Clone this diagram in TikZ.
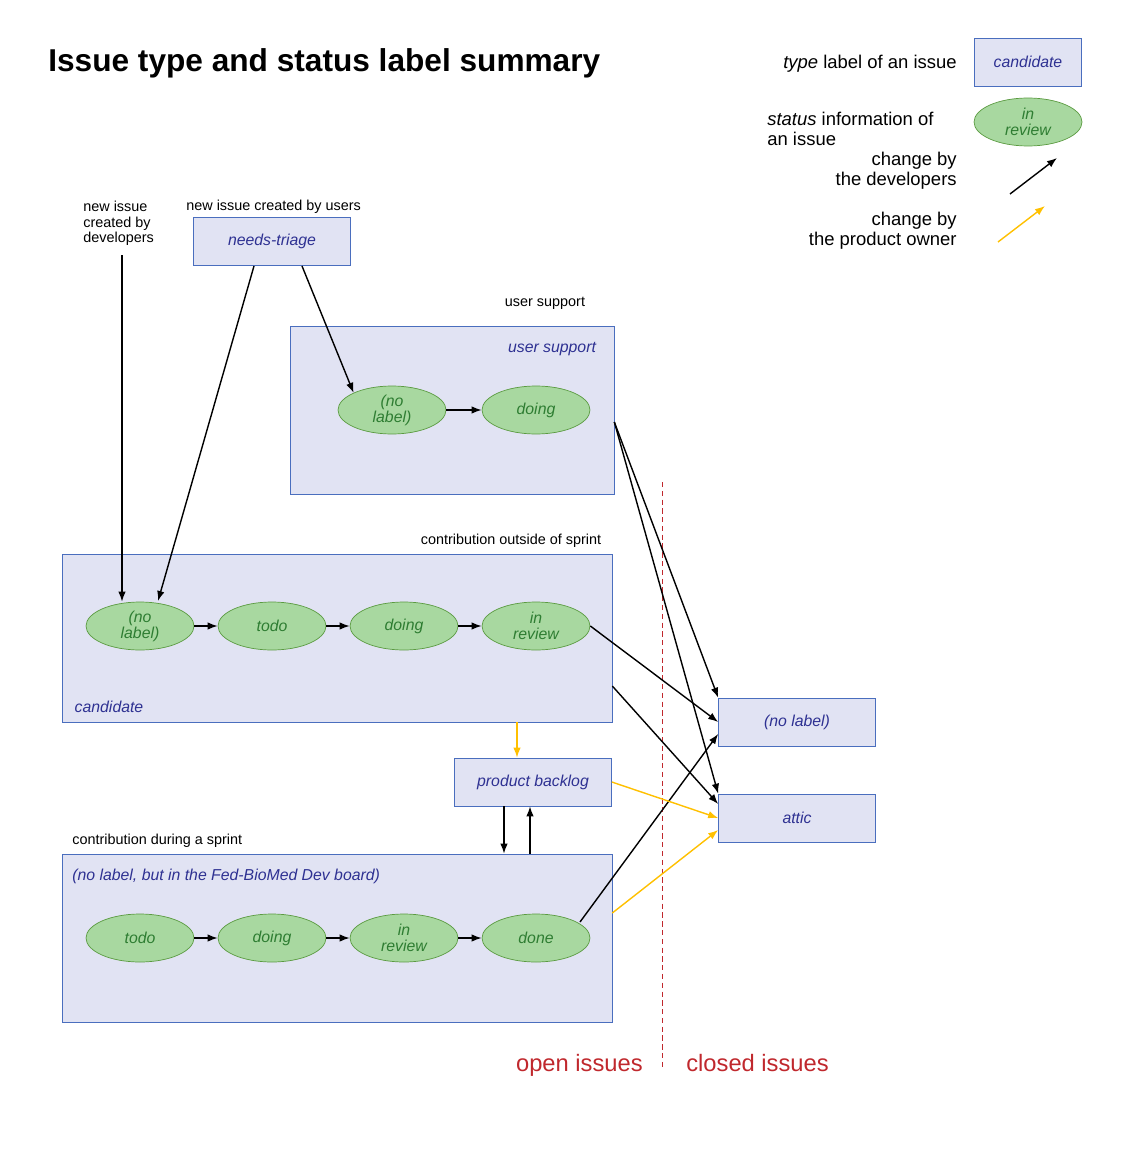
\documentclass[tikz,border=0pt]{standalone}
\usepackage{fontspec}
\setmainfont{Liberation Sans}
\usetikzlibrary{positioning,arrows.meta,shapes.geometric}
\definecolor{boxfill}{HTML}{E1E3F3}
\definecolor{boxdraw}{HTML}{4A6EBE}
\definecolor{boxtext}{HTML}{2E3192}
\definecolor{ellfill}{HTML}{A8D8A0}
\definecolor{elldraw}{HTML}{5A9A40}
\definecolor{elltext}{HTML}{2E7D32}
\definecolor{owner}{HTML}{FFC000}
\definecolor{openred}{HTML}{C0282D}

\begin{document}
\begin{tikzpicture}[x=0.02cm, y=-0.02cm,
    typenode/.style={draw=boxdraw, fill=boxfill, minimum width=3.14cm, minimum height=0.96cm, inner sep=0pt, font=\fontsize{9}{10}\selectfont\itshape, text=boxtext},
    areanode/.style={draw=boxdraw, fill=boxfill, inner sep=0pt},
    statenode/.style={ellipse, draw=elldraw, fill=ellfill, minimum width=2.16cm, minimum height=0.96cm, inner sep=0pt, font=\fontsize{9}{9}\selectfont\itshape, text=elltext, align=center},
    note/.style={font=\fontsize{8.2}{8.7}\selectfont, inner sep=0pt, align=left},
    legend/.style={font=\fontsize{10.5}{11.5}\selectfont, inner sep=0pt},
    dev/.style={-{Latex[length=2mm,width=1.5mm]}, black, thick},
    po/.style={-{Latex[length=2mm,width=1.5mm]}, owner, thick}
    ]
        \useasboundingbox (0,0) rectangle (1122,1152);
        %Title and legend
        \node[anchor=west, inner sep=0pt, font=\fontsize{18}{18}\selectfont\bfseries] (title) at (48,63) {Issue type and status label summary};
        \node[legend, anchor=east] (lgtype) at (957,64) {\textit{type} label of an issue};
        \node[typenode, minimum width=2.14cm] (lgbox) at (1028,62) {candidate};
        \node[legend, anchor=west, align=left] (lgstatus) at (767,129) {\textit{status} information of\\an issue};
        \node[statenode] (lgell) at (1028,122) {in\\review};
        \node[legend, anchor=east, align=right] (lgdev) at (957,171) {change by\\the developers};
        \node[legend, anchor=east, align=right] (lgpo) at (957,231) {change by\\the product owner};
        \coordinate (devA) at (1010,194);
        \coordinate (devB) at (1057,158);
        \coordinate (poA) at (998,242);
        \coordinate (poB) at (1045,206);
        \draw[dev] (devA) -- (devB);
        \draw[po] (poA) -- (poB);

        %Entry points
        \node[note, anchor=north west] (newdev) at (83,201) {new issue\\created by\\developers};
        \node[note, anchor=west] (newuser) at (186,207) {new issue created by users};
        \node[typenode] (triage) at (272,241) {needs-triage};

        %User support
        \node[note] (ustitle) at (545,303) {user support};
        \node[areanode, minimum width=6.48cm, minimum height=3.36cm] (usbox) at (452,410) {};
        \node[font=\fontsize{9}{10}\selectfont\itshape, text=boxtext] (uslabel) at (552,349) {user support};
        \node[statenode] (usnone) at (392,410) {(no\\label)};
        \node[statenode] (usdoing) at (536,410) {doing};

        %Candidate
        \node[note] (cdtitle) at (511,541) {contribution outside of sprint};
        \node[areanode, minimum width=11cm, minimum height=3.36cm] (cdbox) at (337,638) {};
        \node[font=\fontsize{9}{10}\selectfont\itshape, text=boxtext] (cdlabel) at (109,707) {candidate};
        \node[statenode] (cdnone) at (140,626) {(no\\label)};
        \node[statenode] (cdtodo) at (272,626) {todo};
        \node[statenode] (cddoing) at (404,626) {doing};
        \node[statenode] (cdreview) at (536,626) {in\\review};

        %Backlog
        \node[typenode] (backlog) at (533,782) {product backlog};

        %Sprint
        \node[note, anchor=west] (sptitle) at (72,841) {contribution during a sprint};
        \node[areanode, minimum width=11cm, minimum height=3.36cm] (spbox) at (337,938) {};
        \node[anchor=west, inner sep=0pt, font=\fontsize{9}{10}\selectfont\itshape, text=boxtext] (splabel) at (72,876) {(no label, but in the Fed-BioMed Dev board)};
        \node[statenode] (sptodo) at (140,938) {todo};
        \node[statenode] (spdoing) at (272,938) {doing};
        \node[statenode] (spreview) at (404,938) {in\\review};
        \node[statenode] (spdone) at (536,938) {done};

        %Closed
        \node[typenode] (clnone) at (797,722) {(no label)};
        \node[typenode] (attic) at (797,818) {attic};
        \coordinate (sepA) at (662,482);
        \coordinate (sepB) at (662,1070);
        \draw[openred, densely dashed] (sepA) -- (sepB);
        \node[font=\fontsize{13.5}{14}\selectfont, text=openred, anchor=base east, inner sep=0pt] (open) at (643,1071) {open issues};
        \node[font=\fontsize{13.5}{14}\selectfont, text=openred, anchor=base west, inner sep=0pt] (closed) at (686,1071) {closed issues};

        %Lines
        \draw[dev] (122,255) -- (cdnone.north -| 122,0);
        \draw[dev] (254,266) -- (158,601);
        \draw[dev] (302,266) -- (usnone.north west);
        \draw[dev] (usnone) -- (usdoing);
        \draw[dev] (usbox.east |- 0,422) -- (clnone.north west);
        \draw[dev] (usbox.east |- 0,422) -- (attic.north west);
        \draw[dev] (cdreview.east) -- (clnone.west);
        \draw[dev] (cdbox.east |- 0,686) -- (attic.west |- 0,804);
        \foreach \a/\b in {cdnone/cdtodo, cdtodo/cddoing, cddoing/cdreview, sptodo/spdoing, spdoing/spreview, spreview/spdone}
            \draw[dev] (\a) -- (\b);
        \draw[dev] (backlog.south -| 504,0) -- (spbox.north -| 504,0);
        \draw[dev] (spbox.north -| 530,0) -- (backlog.south -| 530,0);
        \draw[dev] (580,922) -- (clnone.west |- 0,734);
        \draw[po] (cdbox.south -| 517,0) -- (backlog.north -| 517,0);
        \draw[po] (backlog.east) -- (attic.west);
        \draw[po] (spbox.east |- 0,913) -- (attic.west |- 0,830);
    \end{tikzpicture}
\end{document}
